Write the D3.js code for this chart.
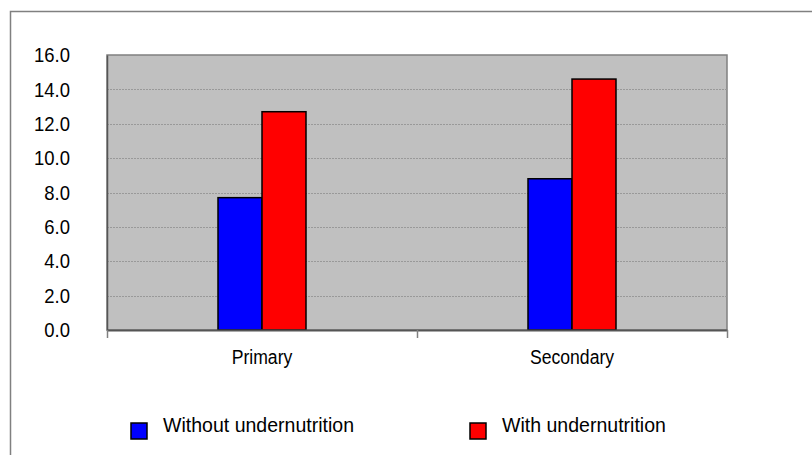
<!DOCTYPE html>
<html><head><meta charset="utf-8">
<script src="https://cdn.jsdelivr.net/npm/d3@7"></script>
<style>body{margin:0;background:#fff}svg{display:block}text{font-family:"Liberation Sans",Arial,sans-serif}</style>
</head><body><svg id="c" width="812" height="455"></svg>
<script>
const categories = ["Primary", "Secondary"];
const seriesNames = ["Without undernutrition", "With undernutrition"];
const withoutValues = [7.7, 8.8];
const withValues = [12.7, 14.6];
const yTicks = [0, 2, 4, 6, 8, 10, 12, 14, 16];
const colors = ["#0000ff", "#ff0000"];

const svg = d3.select("#c");
const m = {l: 107, t: 55, r: 727, b: 330};
const FF = '"Liberation Sans",Arial,sans-serif';

function squeeze(sel, k) {
  sel.each(function () {
    const len = this.getComputedTextLength();
    d3.select(this).attr("textLength", len * k).attr("lengthAdjust", "spacingAndGlyphs");
  });
}

svg.append("rect").attr("x", 10.5).attr("y", 11.5).attr("width", 812).attr("height", 455)
  .attr("fill", "#fff").attr("stroke", "#808080").attr("stroke-width", 1.5);

const y = d3.scaleLinear().domain([0, 16]).range([m.b, m.t]);
const x0 = d3.scaleBand().domain(categories).range([m.l, m.r]).padding(0);
const barW = 44;
const x1 = d3.scaleBand().domain(seriesNames)
  .range([x0.bandwidth() / 2 - barW, x0.bandwidth() / 2 + barW]).padding(0);

svg.append("rect").attr("x", m.l).attr("y", m.t).attr("width", m.r - m.l).attr("height", m.b - m.t)
  .attr("fill", "#c0c0c0").attr("stroke", "#808080").attr("stroke-width", 1.5);

svg.append("g").selectAll("line").data(yTicks.filter(d => d > 0 && d < 16)).join("line")
  .attr("x1", m.l).attr("x2", m.r).attr("y1", d => Math.round(y(d)) + 0.5).attr("y2", d => Math.round(y(d)) + 0.5)
  .attr("stroke", "#999").attr("stroke-width", 1).attr("stroke-dasharray", "2,1");

const data = categories.map((c, i) => ({cat: c, vals: [withoutValues[i], withValues[i]]}));
const g = svg.append("g").selectAll("g").data(data).join("g")
  .attr("transform", d => `translate(${x0(d.cat)},0)`);
g.selectAll("rect").data(d => d.vals.map((v, j) => ({s: seriesNames[j], v, j}))).join("rect")
  .attr("x", d => x1(d.s)).attr("width", x1.bandwidth())
  .attr("y", d => y(d.v)).attr("height", d => y(0) - y(d.v))
  .attr("fill", d => colors[d.j]).attr("stroke", "#000").attr("stroke-width", 1.5);

// y axis
const ya = svg.append("g").attr("transform", `translate(${m.l},0)`)
  .call(d3.axisLeft(y).tickValues(yTicks).tickFormat(d3.format(".1f")).tickSize(0).tickPadding(37));
ya.select(".domain").attr("stroke", "#555").attr("stroke-width", 1.5);
ya.selectAll("text").attr("font-size", 21).attr("fill", "#000").attr("font-family", FF);
squeeze(ya.selectAll("text"), 0.88);

// x axis
const xa = svg.append("g").attr("transform", `translate(0,${m.b})`)
  .call(d3.axisBottom(x0).tickSize(0).tickPadding(20));
xa.select(".domain").attr("stroke", "#555").attr("stroke-width", 2);
xa.selectAll("text").attr("font-size", 20).attr("fill", "#000").attr("font-family", FF);
squeeze(xa.selectAll("text"), 0.88);
const bounds = [m.l].concat(categories.map(c => x0(c) + x0.bandwidth()));
svg.append("g").selectAll("line").data(bounds).join("line")
  .attr("x1", d => Math.round(d) + 0.5).attr("x2", d => Math.round(d) + 0.5)
  .attr("y1", m.b).attr("y2", m.b + 8).attr("stroke", "#808080").attr("stroke-width", 1.5);

// legend
const legX = [131, 470];
const lg = svg.append("g").selectAll("g").data(seriesNames).join("g")
  .attr("transform", (d, i) => `translate(${legX[i]},423)`);
lg.append("rect").attr("width", 16).attr("height", 16)
  .attr("fill", (d, i) => colors[i]).attr("stroke", "#000").attr("stroke-width", 1.5);
const lt = lg.append("text").attr("x", 32).attr("y", 9).attr("font-size", 21).attr("font-family", FF).text(d => d);
squeeze(lt, 0.93);
</script></body></html>
